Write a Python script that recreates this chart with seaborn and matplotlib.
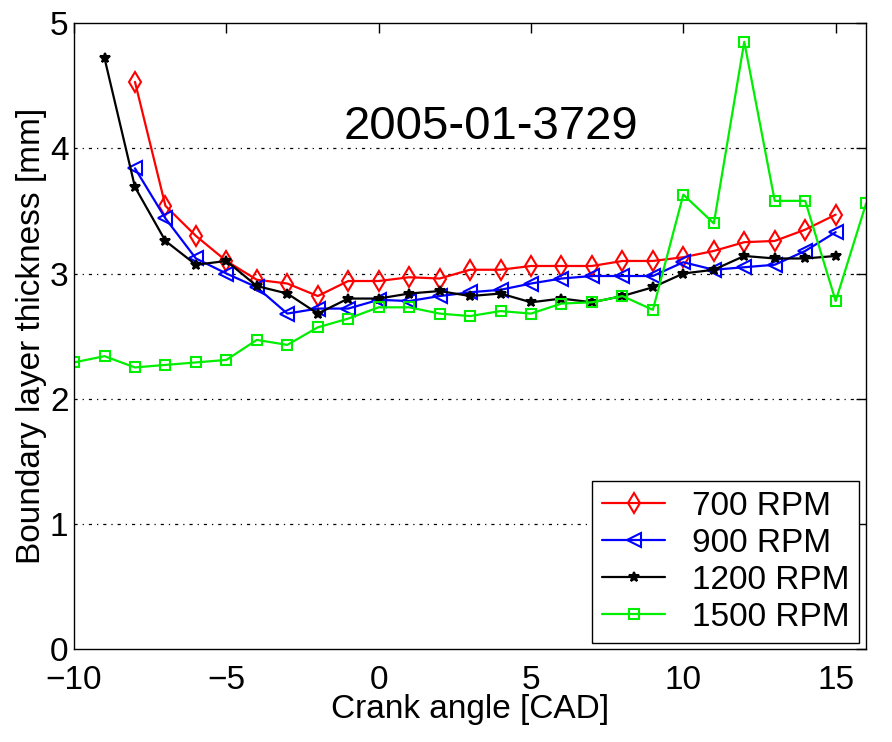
import numpy as np
import pandas as pd
import matplotlib
matplotlib.use("Agg")
import matplotlib.pyplot as plt
import seaborn as sns

# ---- data ----
angles_700 = [-8, -7, -6, -5, -4, -3, -2, -1, 0, 1, 2, 3, 4, 5, 6, 7, 8, 9, 10, 11, 12, 13, 14, 15]
thick_700 = [4.53, 3.54, 3.30, 3.10, 2.95, 2.92, 2.82, 2.94, 2.94, 2.97, 2.96, 3.03, 3.03, 3.06, 3.06, 3.06,
             3.10, 3.10, 3.13, 3.18, 3.25, 3.26, 3.35, 3.47]

angles_900 = [-8, -7, -6, -5, -4, -3, -2, -1, 0, 1, 2, 3, 4, 5, 6, 7, 8, 9, 10, 11, 12, 13, 14, 15]
thick_900 = [3.84, 3.44, 3.12, 3.00, 2.89, 2.68, 2.72, 2.72, 2.79, 2.78, 2.82, 2.85, 2.87, 2.92, 2.96, 2.98,
             2.98, 2.98, 3.09, 3.03, 3.05, 3.07, 3.18, 3.33]

angles_1200 = [-9, -8, -7, -6, -5, -4, -3, -2, -1, 0, 1, 2, 3, 4, 5, 6, 7, 8, 9, 10, 11, 12, 13, 14, 15]
thick_1200 = [4.72, 3.69, 3.26, 3.07, 3.10, 2.90, 2.84, 2.68, 2.80, 2.80, 2.84, 2.86, 2.82, 2.84, 2.77, 2.80,
              2.77, 2.82, 2.89, 3.00, 3.03, 3.14, 3.12, 3.12, 3.14]

angles_1500 = [-10, -9, -8, -7, -6, -5, -4, -3, -2, -1, 0, 1, 2, 3, 4, 5, 6, 7, 8, 9, 10, 11, 12, 13, 14, 15, 16]
thick_1500 = [2.29, 2.34, 2.25, 2.27, 2.29, 2.31, 2.47, 2.43, 2.57, 2.64, 2.73, 2.73, 2.68, 2.66, 2.70, 2.68,
              2.76, 2.77, 2.82, 2.71, 3.63, 3.40, 4.85, 3.58, 3.58, 2.78, 3.56]

series_labels = ["700 RPM", "900 RPM", "1200 RPM", "1500 RPM"]
x_ticks = [-10, -5, 0, 5, 10, 15]
y_ticks = [0, 1, 2, 3, 4, 5]
annotation = "2005-01-3729"

# ---- styling ----
sns.set_style("white")
plt.rcParams["font.family"] = ["Liberation Sans", "DejaVu Sans"]
plt.rcParams["text.color"] = "black"
plt.rcParams["axes.labelcolor"] = "black"

fig = plt.figure(figsize=(8.92, 7.42), dpi=100)
ax = fig.add_axes([0.083, 0.125, 0.888, 0.844])

frames = []
for lab, xs, ys in zip(series_labels,
                       [angles_700, angles_900, angles_1200, angles_1500],
                       [thick_700, thick_900, thick_1200, thick_1500]):
    frames.append(pd.DataFrame({"angle": xs, "thickness": ys, "series": lab}))
df = pd.concat(frames, ignore_index=True)

styles = {
    "700 RPM": dict(color="#ff0000", marker="d", ms=10, mfc="none"),
    "900 RPM": dict(color="#0000ff", marker="<", ms=10, mfc="none"),
    "1200 RPM": dict(color="#000000", marker="*", ms=7, mfc="#000000"),
    "1500 RPM": dict(color="#00ee00", marker="s", ms=7.5, mfc="none"),
}

for lab in series_labels:
    st = styles[lab]
    sub = df[df["series"] == lab]
    sns.lineplot(data=sub, x="angle", y="thickness", ax=ax, label=lab,
                 color=st["color"], marker=st["marker"], markersize=st["ms"],
                 markerfacecolor=st["mfc"], markeredgecolor=st["color"],
                 markeredgewidth=1.5, linewidth=1.6, estimator=None, sort=False)

ax.set_xlim(-10, 16)
ax.set_ylim(0, 5)
ax.set_xticks(x_ticks)
ax.set_yticks(y_ticks)
ax.set_xticklabels(["\u2212" + str(abs(t)) if t < 0 else str(t) for t in x_ticks])

for yv in y_ticks[1:-1]:
    ax.axhline(yv, color="black", linewidth=0.9, linestyle=(0, (2.5, 4, 1, 4)), zorder=0)

ax.tick_params(direction="in", length=7, width=1, top=True, right=True,
               labelsize=24, colors="black")
ax.tick_params(axis="x", pad=11)
ax.tick_params(axis="y", pad=4)
for s in ax.spines.values():
    s.set_color("black")
    s.set_linewidth(1.0)
    s.set_visible(True)

ax.set_xlabel("Crank angle [CAD]", fontsize=24, labelpad=-1)
ax.set_ylabel("Boundary layer thickness [mm]", fontsize=24, labelpad=2)

ax.text(3.7, 4.17, annotation, fontsize=34, ha="center", va="center", color="black")

leg = ax.legend(loc="lower right", fontsize=24, frameon=True, fancybox=False,
                edgecolor="black", framealpha=1, handlelength=1.9, labelspacing=0.18,
                borderpad=0.3, borderaxespad=0.2, handletextpad=0.8)
leg.get_frame().set_linewidth(1.0)

fig.savefig("out.png", dpi=100)
